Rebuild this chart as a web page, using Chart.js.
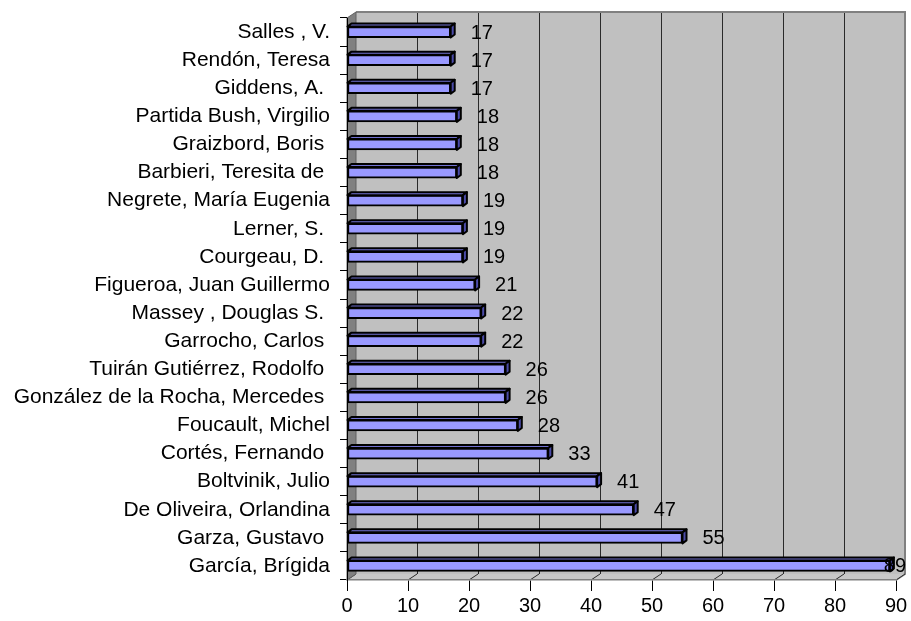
<!DOCTYPE html>
<html>
<head>
<meta charset="utf-8">
<script src="https://cdn.jsdelivr.net/npm/chart.js@4/dist/chart.umd.min.js"></script>
<style>
  html, body { margin: 0; padding: 0; background: #ffffff; }
  #wrap { width: 911px; height: 621px; position: relative; }
</style>
</head>
<body>
<div id="wrap"><canvas id="c" width="911" height="621"></canvas></div>
<script>
const categories = [
  "Salles , V.",
  "Rendón, Teresa",
  "Giddens, A. ",
  "Partida Bush, Virgilio",
  "Graizbord, Boris ",
  "Barbieri, Teresita de ",
  "Negrete, María Eugenia",
  "Lerner, S. ",
  "Courgeau, D. ",
  "Figueroa, Juan Guillermo",
  "Massey , Douglas S. ",
  "Garrocho, Carlos ",
  "Tuirán Gutiérrez, Rodolfo ",
  "González de la Rocha, Mercedes ",
  "Foucault, Michel",
  "Cortés, Fernando ",
  "Boltvinik, Julio",
  "De Oliveira, Orlandina",
  "Garza, Gustavo ",
  "García, Brígida"
];
const values = [17, 17, 17, 18, 18, 18, 19, 19, 19, 21, 22, 22, 26, 26, 28, 33, 41, 47, 55, 89];
const xTicks = [0, 10, 20, 30, 40, 50, 60, 70, 80, 90];

const FONT = "'Liberation Sans', Arial, sans-serif";
const DX = 9, DY = -6;      // wall depth
const BDX = 4, BDY = -3;    // bar depth

const wallsPlugin = {
  id: 'walls',
  beforeDraw(chart) {
    const ctx = chart.ctx;
    const a = chart.chartArea;
    const xs = chart.scales.x;
    ctx.save();
    ctx.fillStyle = '#ffffff';
    ctx.fillRect(0, 0, chart.width, chart.height);
    // back wall
    ctx.fillStyle = '#C0C0C0';
    ctx.fillRect(a.left + DX, a.top + DY, a.right - a.left, a.bottom - a.top);
    // gridlines on back wall
    ctx.strokeStyle = '#2a2a2a';
    ctx.lineWidth = 1;
    xTicks.forEach(v => {
      if (v === 0) return;
      const px = Math.round(xs.getPixelForValue(v) + DX) + 0.5;
      ctx.beginPath();
      ctx.moveTo(px, a.top + DY);
      ctx.lineTo(px, a.bottom + DY);
      ctx.stroke();
    });
    // back wall border
    ctx.strokeStyle = '#808080';
    ctx.lineWidth = 2;
    ctx.beginPath();
    ctx.moveTo(a.left + DX, a.top + DY);
    ctx.lineTo(a.right + DX, a.top + DY);
    ctx.lineTo(a.right + DX, a.bottom + DY);
    ctx.lineTo(a.right, a.bottom);
    ctx.stroke();
    // floor
    ctx.fillStyle = '#C8C8C8';
    ctx.beginPath();
    ctx.moveTo(a.left, a.bottom);
    ctx.lineTo(a.right, a.bottom);
    ctx.lineTo(a.right + DX, a.bottom + DY);
    ctx.lineTo(a.left + DX, a.bottom + DY);
    ctx.closePath();
    ctx.fill();
    ctx.strokeStyle = '#2a2a2a';
    ctx.lineWidth = 1;
    xTicks.forEach(v => {
      const fx = xs.getPixelForValue(v);
      ctx.beginPath();
      ctx.moveTo(fx, a.bottom);
      ctx.lineTo(fx + DX, a.bottom + DY);
      ctx.stroke();
    });
    // left wall
    ctx.fillStyle = '#808080';
    ctx.beginPath();
    ctx.moveTo(a.left, a.top);
    ctx.lineTo(a.left + DX, a.top + DY);
    ctx.lineTo(a.left + DX, a.bottom + DY);
    ctx.lineTo(a.left, a.bottom);
    ctx.closePath();
    ctx.fill();
    ctx.strokeStyle = '#606060';
    ctx.lineWidth = 1;
    ctx.stroke();
    ctx.restore();
  },
  afterDatasetsDraw(chart) {
    const ctx = chart.ctx;
    const meta = chart.getDatasetMeta(0);
    ctx.save();
    meta.data.forEach((bar, i) => {
      const h = bar.height;
      const top = bar.y - h / 2;
      const bot = bar.y + h / 2;
      const x0 = bar.base;
      const x1 = bar.x;
      ctx.lineWidth = 2;
      ctx.strokeStyle = '#000000';
      ctx.lineJoin = 'round';
      // top face
      ctx.fillStyle = '#7070D0';
      ctx.beginPath();
      ctx.moveTo(x0, top);
      ctx.lineTo(x0 + BDX, top + BDY);
      ctx.lineTo(x1 + BDX, top + BDY);
      ctx.lineTo(x1, top);
      ctx.closePath();
      ctx.fill();
      ctx.stroke();
      // end face
      ctx.fillStyle = '#4B4BA8';
      ctx.beginPath();
      ctx.moveTo(x1, top);
      ctx.lineTo(x1 + BDX, top + BDY);
      ctx.lineTo(x1 + BDX, bot + BDY);
      ctx.lineTo(x1, bot);
      ctx.closePath();
      ctx.fill();
      ctx.stroke();
      // value label
      const txt = String(values[i]);
      ctx.fillStyle = '#000000';
      ctx.font = '20px ' + FONT;
      ctx.textAlign = 'left';
      ctx.textBaseline = 'middle';
      const w = ctx.measureText(txt).width;
      const lx = Math.min(x1 + BDX + 16, chart.width - w - 5);
      ctx.fillText(txt, lx, bar.y + 1);
    });
    ctx.restore();
  }
};

new Chart(document.getElementById('c'), {
  type: 'bar',
  data: {
    labels: categories,
    datasets: [{
      data: values,
      backgroundColor: '#9999FF',
      borderColor: '#000000',
      borderWidth: 2,
      borderSkipped: false,
      barThickness: 11
    }]
  },
  options: {
    indexAxis: 'y',
    responsive: false,
    animation: false,
    devicePixelRatio: 1,
    layout: { padding: { top: 18, right: 15, bottom: 0, left: 0 } },
    plugins: {
      legend: { display: false },
      tooltip: { enabled: false }
    },
    scales: {
      x: {
        type: 'linear',
        min: 0,
        max: 90,
        afterBuildTicks: (s) => { s.ticks = xTicks.map(v => ({ value: v })); },
        afterFit: (s) => { s.height = 41; s.paddingLeft = 0; s.paddingRight = 0; },
        grid: {
          display: true,
          drawOnChartArea: false,
          drawTicks: true,
          tickLength: 11,
          color: '#000000',
          lineWidth: 1
        },
        border: { display: true, color: '#808080', width: 1.5 },
        ticks: {
          color: '#000000',
          font: { family: FONT, size: 20 },
          padding: 3,
          maxRotation: 0
        }
      },
      y: {
        type: 'category',
        afterFit: (s) => { s.width = 347; s.paddingTop = 0; s.paddingBottom = 0; },
        grid: {
          display: true,
          offset: true,
          drawOnChartArea: false,
          drawTicks: true,
          tickLength: 7,
          color: '#000000',
          lineWidth: 1
        },
        border: { display: true, color: '#000000', width: 1 },
        ticks: {
          color: '#000000',
          font: { family: FONT, size: 21 },
          padding: 10,
          autoSkip: false
        }
      }
    }
  },
  plugins: [wallsPlugin]
});
</script>
</body>
</html>
